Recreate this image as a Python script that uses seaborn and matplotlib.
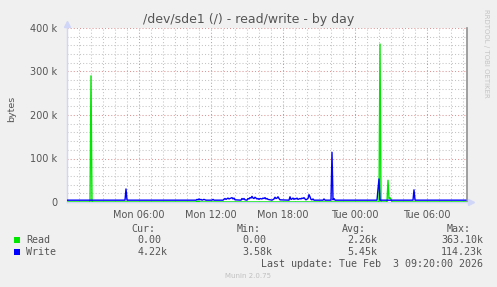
import numpy as np
import pandas as pd
import matplotlib
matplotlib.use("Agg")
import matplotlib.pyplot as plt
import seaborn as sns
from matplotlib.patches import Rectangle
from matplotlib.ticker import MultipleLocator, FixedLocator, FixedFormatter

# ---------------- data (sample index = 5-minute steps since Mon 00:00, values in k bytes) -------------
write_idx = [0, 58, 59, 60,
             129, 130, 131, 132, 133, 134, 135, 137, 138, 139,
             145, 146, 147,
             156, 158, 159, 161, 162, 163, 165, 166, 167, 168,
             174, 175, 176, 177, 178,
             180, 181, 182, 183, 184, 185, 186, 187, 188, 189, 190, 191, 192, 193,
             195, 196, 197, 198, 199, 200, 201,
             205, 207, 208, 209, 210, 211, 212, 213,
             222, 223, 224, 225, 226, 227, 228, 229, 230, 231, 233, 234, 235, 236, 237, 238, 239,
             241, 242, 243, 244, 245, 246, 247,
             256, 257, 258,
             264, 265, 266, 267, 268,
             310, 311, 312, 313,
             346, 347, 348,
             399]
write_kb = [4.2, 4.2, 30, 4.2,
            4.2, 6, 5, 7, 5, 6, 4.2, 6, 5, 4.2,
            4.2, 6, 4.2,
            4.2, 8, 6, 9, 7, 8, 10, 7, 9, 5,
            4.2, 8, 6, 8, 5,
            4.2, 8, 7, 10, 9, 13, 9, 8, 11, 9, 7, 8, 6, 8,
            7, 9, 8, 10, 7, 8, 6,
            4.2, 7, 11, 8, 9, 12, 8, 5,
            4.2, 12, 6, 7, 9, 6, 8, 7, 9, 6, 8, 7, 9, 8, 10, 7, 5,
            8, 17, 12, 6, 5, 7, 4.2,
            4.2, 7, 4.2,
            4.2, 114.2, 5, 8, 4.2,
            4.2, 30, 53, 4.2,
            4.2, 28, 4.2,
            4.2]

read_idx = [0, 23, 24, 25, 129, 130, 131, 132, 133, 312, 313, 314, 320, 321, 322, 323, 324, 325, 399]
read_kb = [0, 0, 290, 0, 0, 2, 1, 2, 0, 0, 363.1, 0, 0, 50, 8, 10, 6, 0, 0]

tick_hours = [6, 12, 18, 24, 30]
tick_labels = ["Mon 06:00", "Mon 12:00", "Mon 18:00", "Tue 00:00", "Tue 06:00"]
y_ticks = [0, 100000, 200000, 300000, 400000]
y_tick_labels = ["0", "100 k", "200 k", "300 k", "400 k"]

series_names = ["Read", "Write"]
series_colors = ["#00e600", "#0000ff"]
cur_vals = ["0.00", "4.22k"]
min_vals = ["0.00", "3.58k"]
avg_vals = ["2.26k", "5.45k"]
max_vals = ["363.10k", "114.23k"]

title = "/dev/sde1 (/) - read/write - by day"
last_update = "Last update: Tue Feb  3 09:20:00 2026"

# ---------------- figure ----------------
sns.set_style("white")
plt.rcParams["font.family"] = ["DejaVu Sans"]

W, H = 497, 287
fig = plt.figure(figsize=(W / 100, H / 100), dpi=100, facecolor="#f0f0f0")


def fx(px):
    return px / W


def fy(py):
    return 1 - py / H


L, R, T, B = 67, 467, 28, 202
ax = fig.add_axes([fx(L), fy(B), (R - L) / W, (B - T) / H])
ax.set_facecolor("white")

df_read = pd.DataFrame({"hour": np.array(read_idx) / 12.0, "bytes": np.array(read_kb) * 1000})
df_write = pd.DataFrame({"hour": np.array(write_idx) / 12.0, "bytes": np.array(write_kb) * 1000})

sns.lineplot(data=df_read, x="hour", y="bytes", ax=ax, color=series_colors[0], lw=1.0,
             estimator=None, sort=False, zorder=3)
sns.lineplot(data=df_write, x="hour", y="bytes", ax=ax, color=series_colors[1], lw=1.0,
             estimator=None, sort=False, zorder=4)

ax.set_xlim(0, 400 / 12.0)
ax.set_ylim(0, 400000)
ax.set_xlabel("")
ax.set_ylabel("")

ax.xaxis.set_major_locator(FixedLocator(tick_hours))
ax.xaxis.set_major_formatter(FixedFormatter(tick_labels))
ax.xaxis.set_minor_locator(MultipleLocator(1))
ax.yaxis.set_major_locator(FixedLocator(y_ticks))
ax.yaxis.set_major_formatter(FixedFormatter(y_tick_labels))
ax.yaxis.set_minor_locator(MultipleLocator(20000))

ax.set_axisbelow(True)
ax.grid(which="minor", color="#c4c4c4", ls=(0, (1, 2)), lw=0.75)
ax.grid(which="major", color="#dc9494", ls=(0, (1, 2)), lw=0.75)

ax.tick_params(axis="both", which="major", length=2, width=0.7, color="#dc9494",
               labelcolor="#555555", labelsize=7)
ax.tick_params(axis="both", which="minor", length=2, width=0.7, color="#c0c0c0")
ax.tick_params(axis="x", which="major", pad=4)
ax.tick_params(axis="y", which="major", pad=5)

ax.spines["top"].set_visible(False)
ax.spines["left"].set_color("#cfd6f8")
ax.spines["bottom"].set_color("#cfd6f8")
ax.spines["right"].set_color("#909090")
ax.spines["right"].set_linewidth(1.2)
for s in ["left", "bottom"]:
    ax.spines[s].set_linewidth(1.0)

# axis arrows
ax.plot([0, 0], [1, 1 + 5 / 174], transform=ax.transAxes, color="#cfd6f8", lw=1.0, clip_on=False)
ax.plot([0], [1 + 4 / 174], transform=ax.transAxes, marker="^", ms=4, color="#cfd6f8",
        mec="#cfd6f8", clip_on=False)
ax.plot([1, 1 + 4 / 400], [0, 0], transform=ax.transAxes, color="#cfd6f8", lw=1.0, clip_on=False)
ax.plot([1 + 4 / 400], [0], transform=ax.transAxes, marker=">", ms=4, color="#cfd6f8",
        mec="#cfd6f8", clip_on=False)

# ---------------- texts ----------------
fig.text(fx(248.5), fy(22.5), title, ha="center", va="baseline", fontsize=9, color="#555555")
fig.text(fx(11.5), fy(109), "bytes", rotation=90, ha="center", va="center", fontsize=6.8,
         color="#555555")
fig.text(fx(486), fy(53), "RRDTOOL / TOBI OETIKER", rotation=270, ha="center", va="center",
         fontsize=5, color="#c4c4c4")

mono = "DejaVu Sans Mono"
fs = 7.2
tc = "#555555"
hdr_y = fy(232)
fig.text(fx(131.7), hdr_y, "Cur:", fontsize=fs, family=mono, color=tc, va="baseline")
fig.text(fx(236.7), hdr_y, "Min:", fontsize=fs, family=mono, color=tc, va="baseline")
fig.text(fx(342.3), hdr_y, "Avg:", fontsize=fs, family=mono, color=tc, va="baseline")
fig.text(fx(446.7), hdr_y, "Max:", fontsize=fs, family=mono, color=tc, va="baseline")

row_base = [243, 255]
for i, name in enumerate(series_names):
    yb = fy(row_base[i])
    fig.add_artist(Rectangle((fx(14), fy(row_base[i] - 0.5)), 6 / W, 6 / H,
                             transform=fig.transFigure, facecolor=series_colors[i],
                             edgecolor="none"))
    fig.text(fx(26), yb, name, fontsize=fs, family=mono, color=tc, va="baseline")
    fig.text(fx(137.7), yb, cur_vals[i], fontsize=fs, family=mono, color=tc, va="baseline")
    fig.text(fx(242.7), yb, min_vals[i], fontsize=fs, family=mono, color=tc, va="baseline")
    fig.text(fx(347.7), yb, avg_vals[i], fontsize=fs, family=mono, color=tc, va="baseline")
    fig.text(fx(441), yb, max_vals[i], fontsize=fs, family=mono, color=tc, va="baseline")

fig.text(fx(261), fy(267), last_update, fontsize=fs, family=mono, color=tc, va="baseline")
fig.text(fx(248), fy(278.5), "Munin 2.0.75", ha="center", va="baseline", fontsize=5,
         color="#c0c0c0")

fig.savefig("out.png", dpi=100, facecolor=fig.get_facecolor())
